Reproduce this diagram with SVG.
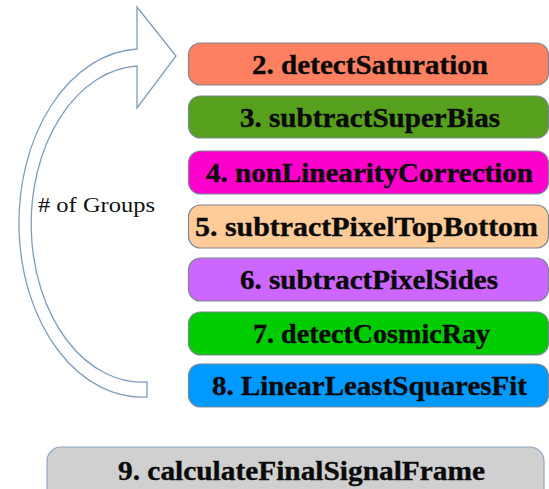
<svg xmlns="http://www.w3.org/2000/svg" width="549" height="489" viewBox="0 0 549 489">
<style>
.box{stroke:#7a8794;stroke-width:1.2}
.lbl{font-family:"Liberation Serif","Times New Roman",serif;font-weight:bold;font-size:26.5px;fill:#0a0a0a;stroke:#0a0a0a;stroke-width:0.35;text-anchor:middle}
.note{font-family:"Liberation Serif","Times New Roman",serif;font-size:21px;fill:#111}
</style>
<rect width="549" height="489" fill="#fff"/>
<g id="connectors">
<path id="loop-arrow" d="M137,7 L176,56 L137,108 L137,66 A110,157 0 0 0 147,382 L147,397 A123,174 0 0 1 137,49 Z" fill="#fff" stroke="#7f9dbd" stroke-width="1.3"/>
</g>
<g id="label-groups"><text class="note" x="38" y="212" textLength="117" lengthAdjust="spacingAndGlyphs"># of Groups</text></g>
<g id="n2"><rect class="box" x="188.5" y="43" width="360" height="42" rx="12" fill="#ff8060"/><text class="lbl" x="370" y="74" textLength="236" lengthAdjust="spacingAndGlyphs">2. detectSaturation</text></g>
<g id="n3"><rect class="box" x="188.5" y="96" width="360" height="42" rx="12" fill="#56a01e"/><text class="lbl" x="370" y="127" textLength="260" lengthAdjust="spacingAndGlyphs">3. subtractSuperBias</text></g>
<g id="n4"><rect class="box" x="188.5" y="151" width="360" height="43" rx="12" fill="#ff00cc"/><text class="lbl" x="369.5" y="182" textLength="327" lengthAdjust="spacingAndGlyphs">4. nonLinearityCorrection</text></g>
<g id="n5"><rect class="box" x="188.5" y="205" width="360" height="43" rx="12" fill="#ffcc99"/><text class="lbl" x="366.5" y="236" textLength="343" lengthAdjust="spacingAndGlyphs">5. subtractPixelTopBottom</text></g>
<g id="n6"><rect class="box" x="188.5" y="258" width="360" height="43" rx="12" fill="#cc66ff"/><text class="lbl" x="369" y="289" textLength="258" lengthAdjust="spacingAndGlyphs">6. subtractPixelSides</text></g>
<g id="n7"><rect class="box" x="188.5" y="312" width="360" height="43" rx="12" fill="#00cc00"/><text class="lbl" x="371.5" y="343" textLength="237" lengthAdjust="spacingAndGlyphs">7. detectCosmicRay</text></g>
<g id="n8"><rect class="box" x="188.5" y="364" width="360" height="43" rx="12" fill="#0099ff"/><text class="lbl" x="369.5" y="395" textLength="315" lengthAdjust="spacingAndGlyphs">8. LinearLeastSquaresFit</text></g>
<g id="n9"><rect x="47" y="447" width="497" height="60" rx="14" fill="#d0d0d0" stroke="#8fa6c2" stroke-width="1.2"/><text class="lbl" x="301.5" y="480" textLength="367" lengthAdjust="spacingAndGlyphs">9. calculateFinalSignalFrame</text></g>
</svg>
